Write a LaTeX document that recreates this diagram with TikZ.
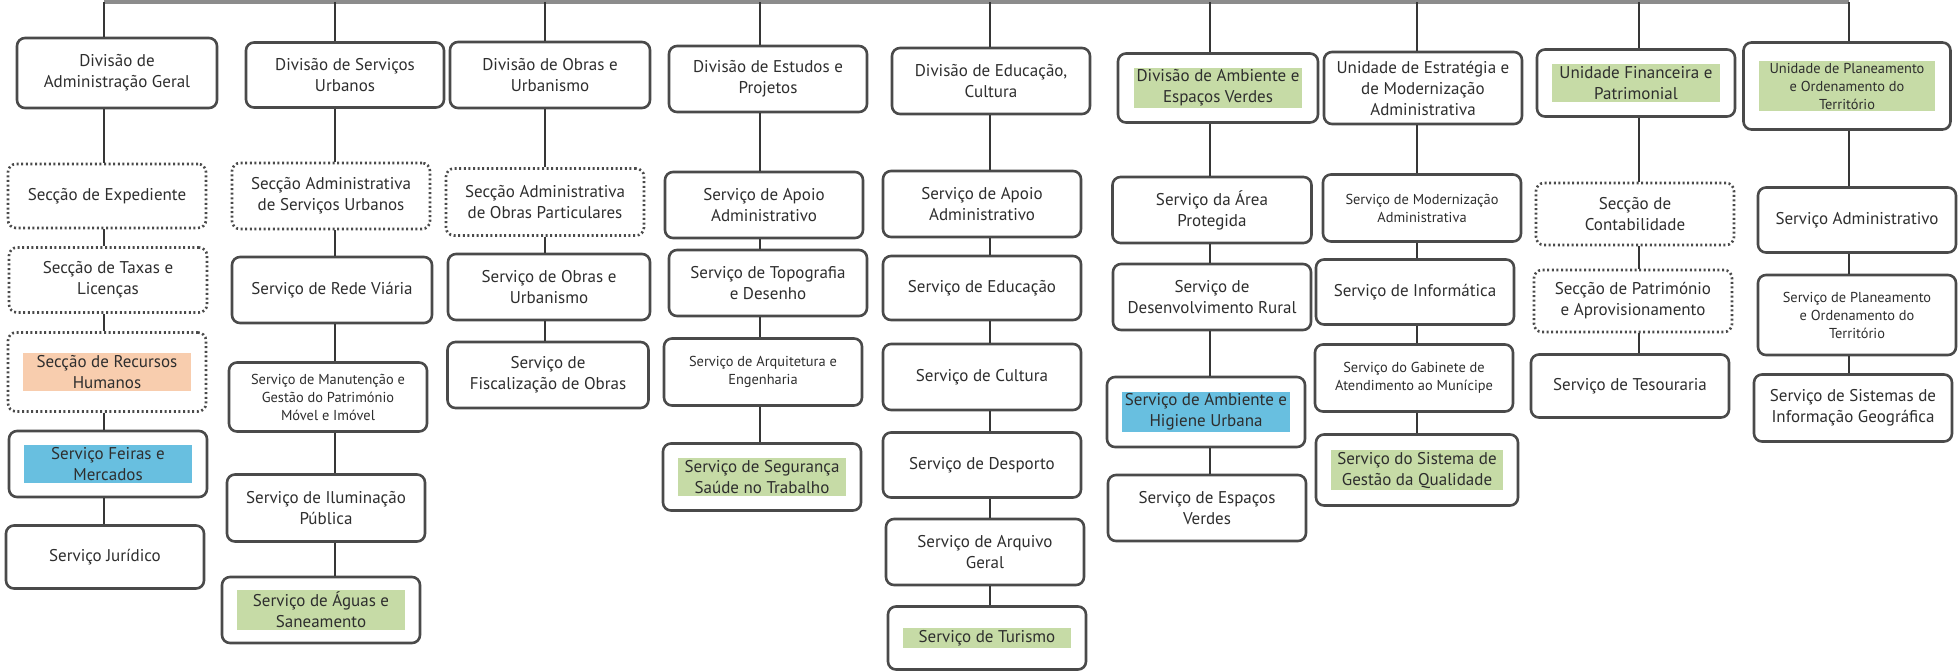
\documentclass[tikz,border=0pt]{standalone}
\usepackage{fontspec}
\setmainfont{PT Sans}
\usepackage{tikz}
\usetikzlibrary{positioning}
\definecolor{boxline}{HTML}{4A4A4A}
\definecolor{linkline}{HTML}{363636}
\definecolor{topline}{HTML}{8C8C8C}
\definecolor{inktext}{HTML}{2E2E2E}
\definecolor{hlorange}{HTML}{F8CDAE}
\definecolor{hlblue}{HTML}{68BFE0}
\definecolor{hlgreen}{HTML}{C6DBA6}
\newcommand{\hilite}[3][82pt]{{\setlength{\fboxsep}{1pt}\colorbox{#2}{\parbox{#1}{\centering #3}}}}
\tikzset{
unit/.style={draw=boxline, line width=1.3pt, rounded corners=4pt, fill=white, text=inktext, align=center, inner sep=1pt, minimum width=99pt, minimum height=33pt, font=\fontsize{8.5}{10.5}\selectfont}, seccao/.style={unit, dash pattern=on 1pt off 1.3pt}, smalltxt/.style={font=\fontsize{7.2}{9}\selectfont}, link/.style={draw=linkline, line width=1pt}, topln/.style={draw=topline, line width=2pt}}

\begin{document}
\begin{tikzpicture}[x=0.5pt, y=-0.5pt]
\useasboundingbox (0,0) rectangle (1960,671);
% column x of the connectors
\coordinate (ta) at (104,2);
\coordinate (tb) at (335,2);
\coordinate (tc) at (545,2);
\coordinate (td) at (760,2);
\coordinate (te) at (990,2);
\coordinate (tf) at (1210,2);
\coordinate (tg) at (1417,2);
\coordinate (th) at (1639,2);
\coordinate (ti) at (1849,2);

% Divisao de Administracao Geral
\node [unit, minimum width=100pt, minimum height=35pt] (a0) at (117,73) {Divisão de\\Administração Geral};
\node [seccao, minimum height=32pt] (a1) at (107,196) {Secção de Expediente};
\node [seccao, minimum height=32.5pt] (a2) at (108,280) {Secção de Taxas e\\Licenças};
\node [seccao, minimum height=39.5pt] (a3) at (107,372) {\hilite{hlorange}{Secção de Recursos\\Humanos}};
\node [unit] (a4) at (108,464) {\hilite{hlblue}{Serviço Feiras e\\Mercados}};
\node [unit, minimum height=31.5pt] (a5) at (105,557) {Serviço Jurídico};

% Divisao de Servicos Urbanos
\node [unit, minimum height=32.5pt] (b0) at (345,75) {Divisão de Serviços\\Urbanos};
\node [seccao] (b1) at (331,196) {Secção Administrativa\\de Serviços Urbanos};
\node [unit, minimum width=100pt] (b2) at (332,290) {Serviço de Rede Viária};
\node [unit, smalltxt, minimum height=34.5pt] (b3) at (328,397) {Serviço de Manutenção e\\Gestão do Património\\Móvel e Imóvel};
\node [unit, minimum height=33.5pt] (b4) at (326,508) {Serviço de Iluminação\\Pública};
\node [unit] (b5) at (321,610) {\hilite{hlgreen}{Serviço de Águas e\\Saneamento}};

% Divisao de Obras e Urbanismo
\node [unit, minimum width=100pt] (c0) at (550,75) {Divisão de Obras e\\Urbanismo};
\node [seccao, minimum height=33.5pt] (c1) at (545,202) {Secção Administrativa\\de Obras Particulares};
\node [unit, minimum width=101pt] (c2) at (549,287) {Serviço de Obras e\\Urbanismo};
\node [unit, minimum width=100.5pt] (c3) at (548,375) {Serviço de\\Fiscalização de Obras};

% Divisao de Estudos e Projetos
\node [unit] (d0) at (768,79) {Divisão de Estudos e\\Projetos};
\node [unit] (d1) at (764,205) {Serviço de Apoio\\Administrativo};
\node [unit] (d2) at (768,283) {Serviço de Topografia\\e Desenho};
\node [unit, smalltxt, minimum height=33.5pt] (d3) at (763,372) {Serviço de Arquitetura e\\Engenharia};
\node [unit, minimum height=33.5pt] (d4) at (762,477) {\hilite{hlgreen}{Serviço de Segurança\\Saúde no Trabalho}};

% Divisao de Educacao, Cultura
\node [unit] (e0) at (991,81) {Divisão de Educação,\\Cultura};
\node [unit] (e1) at (982,204) {Serviço de Apoio\\Administrativo};
\node [unit, minimum height=32pt] (e2) at (982,288) {Serviço de Educação};
\node [unit] (e3) at (982,377) {Serviço de Cultura};
\node [unit, minimum height=32.5pt] (e4) at (982,465) {Serviço de Desporto};
\node [unit] (e5) at (985,552) {Serviço de Arquivo\\Geral};
\node [unit, minimum height=31.5pt] (e6) at (987,638) {\hilite{hlgreen}{Serviço de Turismo}};

% Divisao de Ambiente e Espacos Verdes
\node [unit, minimum width=100pt, minimum height=34.5pt] (f0) at (1218,88) {\hilite{hlgreen}{Divisão de Ambiente e\\Espaços Verdes}};
\node [unit, minimum width=99.5pt] (f1) at (1212,210) {Serviço da Área\\Protegida};
\node [unit] (f2) at (1212,297) {Serviço de\\Desenvolvimento Rural};
\node [unit, minimum height=35pt] (f3) at (1206,412) {\hilite{hlblue}{Serviço de Ambiente e\\Higiene Urbana}};
\node [unit] (f4) at (1207,508) {Serviço de Espaços\\Verdes};

% Unidade de Estrategia e de Modernizacao Administrativa
\node [unit, minimum height=36pt] (g0) at (1423,88) {Unidade de Estratégia e\\de Modernização\\Administrativa};
\node [unit, smalltxt, minimum height=33.5pt] (g1) at (1422,208) {Serviço de Modernização\\Administrativa};
\node [unit, minimum height=32.5pt] (g2) at (1415,292) {Serviço de Informática};
\node [unit, smalltxt, minimum height=33.5pt] (g3) at (1414,378) {Serviço do Gabinete de\\Atendimento ao Munícipe};
\node [unit, minimum width=101pt, minimum height=35.5pt] (g4) at (1417,470) {\hilite[84pt]{hlgreen}{Serviço do Sistema de\\Gestão da Qualidade}};

% Unidade Financeira e Patrimonial
\node [unit, minimum height=33.5pt] (h0) at (1636,83) {\hilite{hlgreen}{Unidade Financeira e\\Patrimonial}};
\node [seccao, minimum height=31pt] (h1) at (1635,214) {Secção de\\Contabilidade};
\node [seccao, minimum height=31pt] (h2) at (1633,301) {Secção de Património\\e Aprovisionamento};
\node [unit, minimum height=31.5pt] (h3) at (1630,386) {Serviço de Tesouraria};

% Unidade de Planeamento e Ordenamento do Territorio
\node [unit, smalltxt, minimum width=103.5pt, minimum height=43.5pt] (i0) at (1847,86) {\hilite[86pt]{hlgreen}{Unidade de Planeamento\\e Ordenamento do\\Território}};
\node [unit, minimum height=32.5pt] (i1) at (1857,220) {Serviço Administrativo};
\node [unit, smalltxt, minimum height=40pt] (i2) at (1857,315) {Serviço de Planeamento\\e Ordenamento do\\Território};
\node [unit, minimum height=33.5pt] (i3) at (1853,408) {Serviço de Sistemas de\\Informação Geográfica};

\draw [topln] (ta) -- (ti);
\foreach \c/\n in {a/5, b/5, c/3, d/4, e/6, f/4, g/4, h/3, i/3}{
  \draw [link] (t\c) -- (\c0.north -| t\c);
  \foreach \j [evaluate=\j as \jj using int(\j-1)] in {1,...,\n}
    \draw [link] (\c\jj.south -| t\c) -- (\c\j.north -| t\c);
}
\end{tikzpicture}
\end{document}
